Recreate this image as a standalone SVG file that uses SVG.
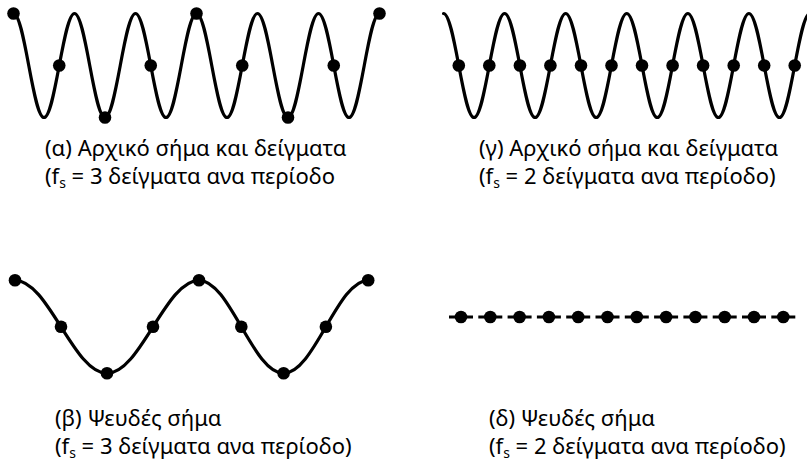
<svg xmlns="http://www.w3.org/2000/svg" width="807" height="462" viewBox="0 0 807 462">
<style>
.wave{fill:none;stroke:#000;stroke-width:3.2;stroke-linejoin:round;stroke-linecap:round}
.dash{fill:none;stroke:#000;stroke-width:3.2;stroke-dasharray:24 5.3}
.dot{fill:#000}
text{font-family:"Noto Sans","DejaVu Sans",sans-serif;font-size:22px;fill:#000}
.sub{font-size:14px}
</style>
<defs><circle id="d" r="6.3" class="dot"/></defs>
<rect width="807" height="462" fill="#fff"/>
<g id="panel-a">
<path class="wave" d="M13.5,13.5
c5.52,0 10.28,25.36 15.25,52 c4.97,26.64 9.73,52 15.25,52 c5.52,0 10.28,-25.36 15.25,-52 c4.97,-26.64 9.73,-52 15.25,-52
c5.52,0 10.28,25.36 15.25,52 c4.97,26.64 9.73,52 15.25,52 c5.52,0 10.28,-25.36 15.25,-52 c4.97,-26.64 9.73,-52 15.25,-52
c5.52,0 10.28,25.36 15.25,52 c4.97,26.64 9.73,52 15.25,52 c5.52,0 10.28,-25.36 15.25,-52 c4.97,-26.64 9.73,-52 15.25,-52
c5.52,0 10.28,25.36 15.25,52 c4.97,26.64 9.73,52 15.25,52 c5.52,0 10.28,-25.36 15.25,-52 c4.97,-26.64 9.73,-52 15.25,-52
c5.52,0 10.28,25.36 15.25,52 c4.97,26.64 9.73,52 15.25,52 c5.52,0 10.28,-25.36 15.25,-52 c4.97,-26.64 9.73,-52 15.25,-52
c5.52,0 10.28,25.36 15.25,52 c4.97,26.64 9.73,52 15.25,52 c5.52,0 10.28,-25.36 15.25,-52 c4.97,-26.64 9.73,-52 15.25,-52"/>
<use href="#d" x="13.5" y="13.5"/><use href="#d" x="59.25" y="65.5"/><use href="#d" x="105" y="117.5"/>
<use href="#d" x="150.75" y="65.5"/><use href="#d" x="196.5" y="13.5"/><use href="#d" x="242.25" y="65.5"/>
<use href="#d" x="288" y="117.5"/><use href="#d" x="333.75" y="65.5"/><use href="#d" x="379.5" y="13.5"/>
<text x="45" y="156">(α) Αρχικό σήμα και δείγματα</text>
<text x="45" y="184">(f<tspan class="sub" dy="4">s</tspan><tspan dy="-4"> = 3 δείγματα ανα περίοδο</tspan></text>
</g>
<g id="panel-c">
<path class="wave" d="M443.5,13.5
c5.53,0 10.29,25.36 15.27,52 c4.98,26.64 9.74,52 15.27,52 c5.53,0 10.29,-25.36 15.27,-52 c4.98,-26.64 9.74,-52 15.27,-52
c5.53,0 10.29,25.36 15.27,52 c4.98,26.64 9.74,52 15.27,52 c5.53,0 10.29,-25.36 15.27,-52 c4.98,-26.64 9.74,-52 15.27,-52
c5.53,0 10.29,25.36 15.27,52 c4.98,26.64 9.74,52 15.27,52 c5.53,0 10.29,-25.36 15.27,-52 c4.98,-26.64 9.74,-52 15.27,-52
c5.53,0 10.29,25.36 15.27,52 c4.98,26.64 9.74,52 15.27,52 c5.53,0 10.29,-25.36 15.27,-52 c4.98,-26.64 9.74,-52 15.27,-52
c5.53,0 10.29,25.36 15.27,52 c4.98,26.64 9.74,52 15.27,52 c5.53,0 10.29,-25.36 15.27,-52 c4.98,-26.64 9.74,-52 15.27,-52
c5.53,0 10.29,25.36 15.27,52 c4.98,26.64 9.74,52 15.27,52 c5.53,0 10.29,-25.36 15.27,-52 c4.98,-26.64 9.74,-52 15.27,-52"/>
<use href="#d" x="458.8" y="65.5"/><use href="#d" x="489.3" y="65.5"/><use href="#d" x="519.9" y="65.5"/>
<use href="#d" x="550.4" y="65.5"/><use href="#d" x="581" y="65.5"/><use href="#d" x="611.5" y="65.5"/>
<use href="#d" x="642" y="65.5"/><use href="#d" x="672.6" y="65.5"/><use href="#d" x="703.1" y="65.5"/>
<use href="#d" x="733.7" y="65.5"/><use href="#d" x="764.2" y="65.5"/><use href="#d" x="794.7" y="65.5"/>
<text x="479" y="156">(γ) Αρχικό σήμα και δείγματα</text>
<text x="479" y="184">(f<tspan class="sub" dy="4">s</tspan><tspan dy="-4"> = 2 δείγματα ανα περίοδο)</tspan></text>
</g>
<g id="panel-b">
<path class="wave" d="M15,280.3
c16.65,0 31,22.68 46,46.5 c15,23.82 29.35,46.5 46,46.5 c16.65,0 31,-22.68 46,-46.5 c15,-23.82 29.35,-46.5 46,-46.5
c15.31,0 28.51,22.68 42.3,46.5 c13.79,23.82 26.99,46.5 42.3,46.5 c15.31,0 28.51,-22.68 42.3,-46.5 c13.79,-23.82 26.99,-46.5 42.3,-46.5"/>
<use href="#d" x="15" y="280.3"/><use href="#d" x="61" y="326.8"/><use href="#d" x="107" y="373.3"/>
<use href="#d" x="153" y="326.8"/><use href="#d" x="199" y="280.3"/><use href="#d" x="241.3" y="326.8"/>
<use href="#d" x="283.6" y="373.3"/><use href="#d" x="325.9" y="326.8"/><use href="#d" x="368.2" y="280.3"/>
<text x="55" y="426">(β) Ψευδές σήμα</text>
<text x="55" y="454">(f<tspan class="sub" dy="4">s</tspan><tspan dy="-4"> = 3 δείγματα ανα περίοδο)</tspan></text>
</g>
<g id="panel-d">
<line class="dash" x1="449" y1="317" x2="795.3" y2="317"/>
<use href="#d" x="461" y="317"/><use href="#d" x="490.3" y="317"/><use href="#d" x="519.6" y="317"/>
<use href="#d" x="548.9" y="317"/><use href="#d" x="578.2" y="317"/><use href="#d" x="607.5" y="317"/>
<use href="#d" x="636.8" y="317"/><use href="#d" x="666.1" y="317"/><use href="#d" x="695.4" y="317"/>
<use href="#d" x="724.7" y="317"/><use href="#d" x="754" y="317"/><use href="#d" x="783.3" y="317"/>
<text x="489" y="426">(δ) Ψευδές σήμα</text>
<text x="489" y="454">(f<tspan class="sub" dy="4">s</tspan><tspan dy="-4"> = 2 δείγματα ανα περίοδο)</tspan></text>
</g>
</svg>
